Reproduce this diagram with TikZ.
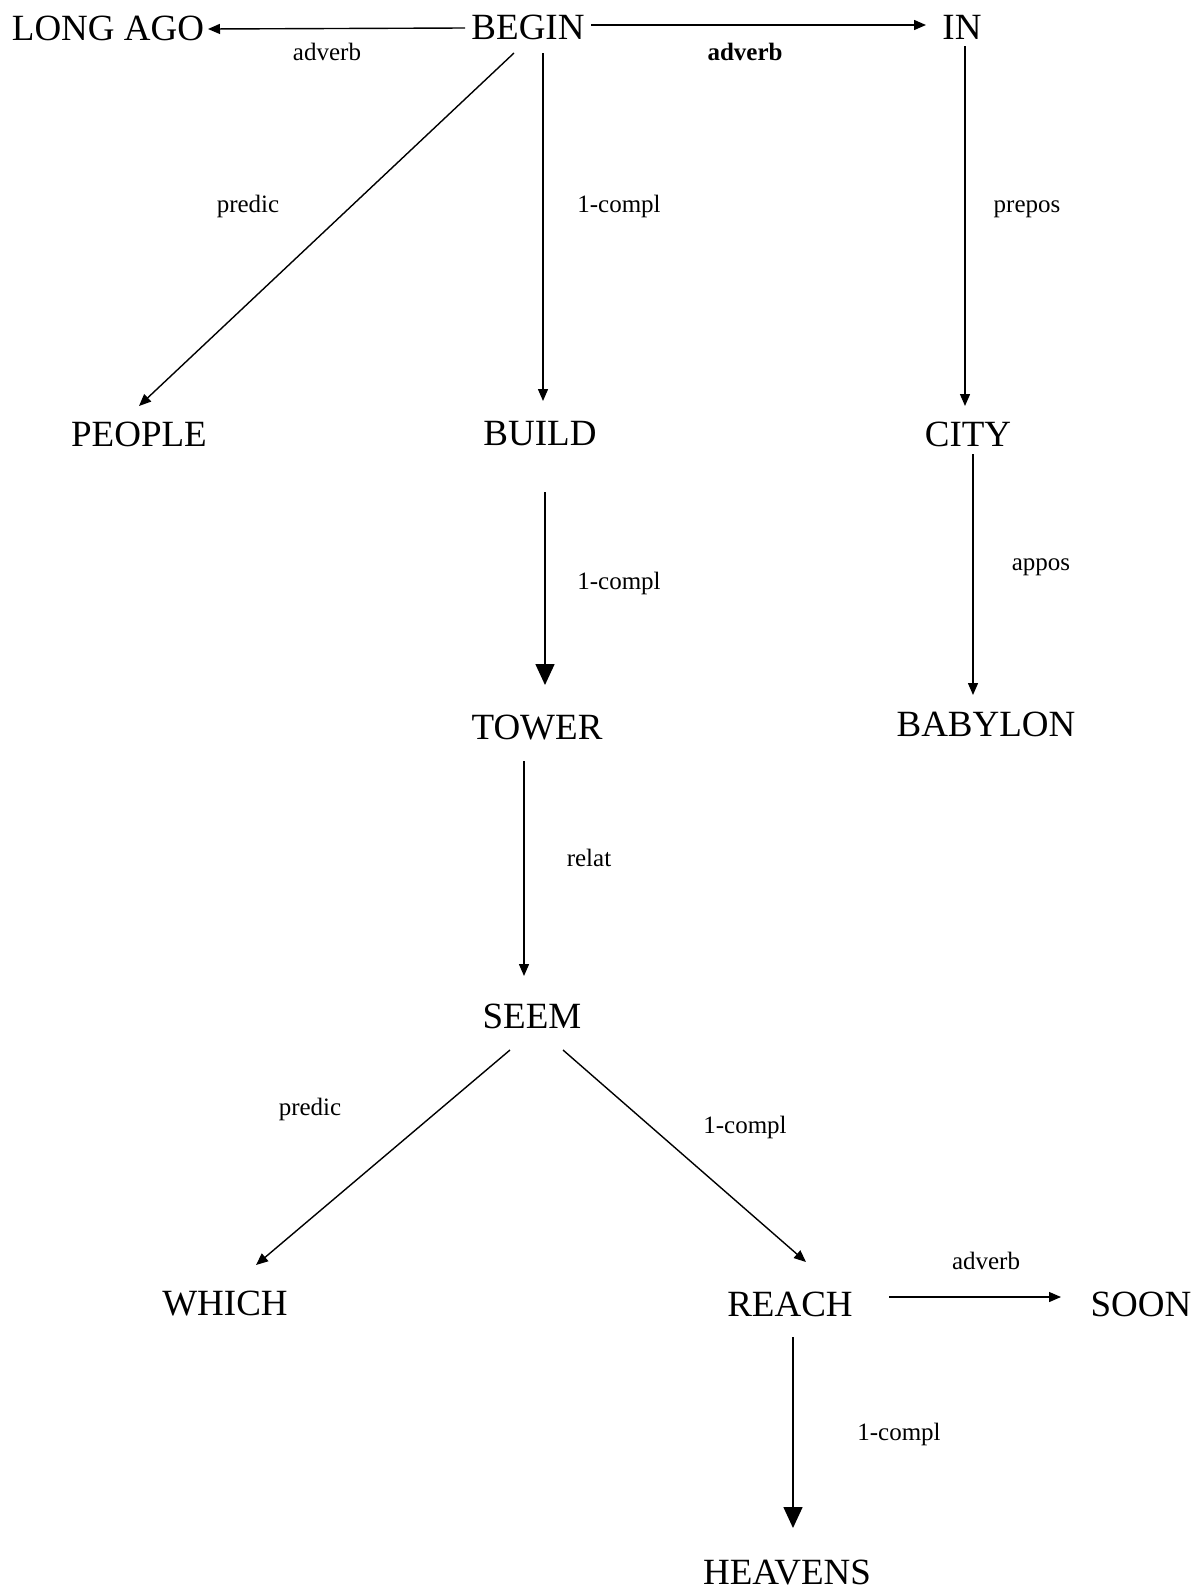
\documentclass[tikz,border=0pt]{standalone}
\usepackage{fontspec}
\setmainfont{Liberation Serif}
\usetikzlibrary{arrows.meta,calc}
\begin{document}
\begin{tikzpicture}[x=1pt,y=-1pt,
  word/.style={font=\fontsize{37}{40}\selectfont, inner sep=0pt},
  lab/.style={font=\fontsize{25}{28}\selectfont, inner sep=0pt},
  arr/.style={line width=1.4pt, -{Triangle[length=12pt,width=10pt]}},
  bigarr/.style={line width=1.6pt, -{Triangle[length=21pt,width=19pt]}}]
\useasboundingbox[fill=white] (0,0) rectangle (1201,1590);
% nodes
\node[word] (longago) at (108,28) {LONG AGO};
\node[word] (begin) at (528,27) {BEGIN};
\node[word] (in) at (962,27) {IN};
\node[word] (people) at (139,434) {PEOPLE};
\node[word] (build) at (540,434) {BUILD};
\node[word] (city) at (968,434) {CITY};
\node[word] (tower) at (537,728) {TOWER};
\node[word] (babylon) at (986,724) {BABYLON};
\node[word] (seem) at (532,1016) {SEEM};
\node[word] (which) at (225,1304) {WHICH};
\node[word] (reach) at (790,1304) {REACH};
\node[word] (soon) at (1141,1304) {SOON};
\node[word] (heavens) at (787,1573) {HEAVENS};
% connectors
\draw[arr] ($(begin)+(-63,1)$) -- ($(longago)+(100,1)$);
\draw[arr] ($(begin)+(63,-2)$) -- ($(in)+(-36,-2)$);
\draw[arr] ($(begin)+(-14,26)$) -- ($(people)+(0,-28)$);
\draw[arr] ($(begin)+(15,26)$) -- ($(build)+(3,-33)$);
\draw[arr] ($(in)+(3,19)$) -- ($(city)+(-3,-28)$);
\draw[bigarr] ($(build)+(5,58)$) -- ($(tower)+(8,-43)$);
\draw[arr] ($(city)+(5,20)$) -- ($(babylon)+(-13,-29)$);
\draw[arr] ($(tower)+(-13,33)$) -- ($(seem)+(-8,-40)$);
\draw[arr] ($(seem)+(-22,34)$) -- ($(which)+(31,-39)$);
\draw[arr] ($(seem)+(31,34)$) -- ($(reach)+(16,-42)$);
\draw[arr] ($(reach)+(99,-7)$) -- ($(soon)+(-80,-7)$);
\draw[bigarr] ($(reach)+(3,33)$) -- ($(heavens)+(6,-45)$);
% labels
\node[lab] (l1) at (327,52) {adverb};
\node[lab,font=\fontsize{25}{28}\selectfont\bfseries] (l2) at (745,52) {adverb};
\node[lab] (l3) at (248,206) {predic};
\node[lab] (l4) at (619,206) {1-compl};
\node[lab] (l5) at (1027,209) {prepos};
\node[lab] (l6) at (619,583) {1-compl};
\node[lab] (l7) at (1041,567) {appos};
\node[lab] (l8) at (589,858) {relat};
\node[lab] (l9) at (310,1109) {predic};
\node[lab] (l10) at (745,1127) {1-compl};
\node[lab] (l11) at (986,1261) {adverb};
\node[lab] (l12) at (899,1434) {1-compl};
\end{tikzpicture}
\end{document}
